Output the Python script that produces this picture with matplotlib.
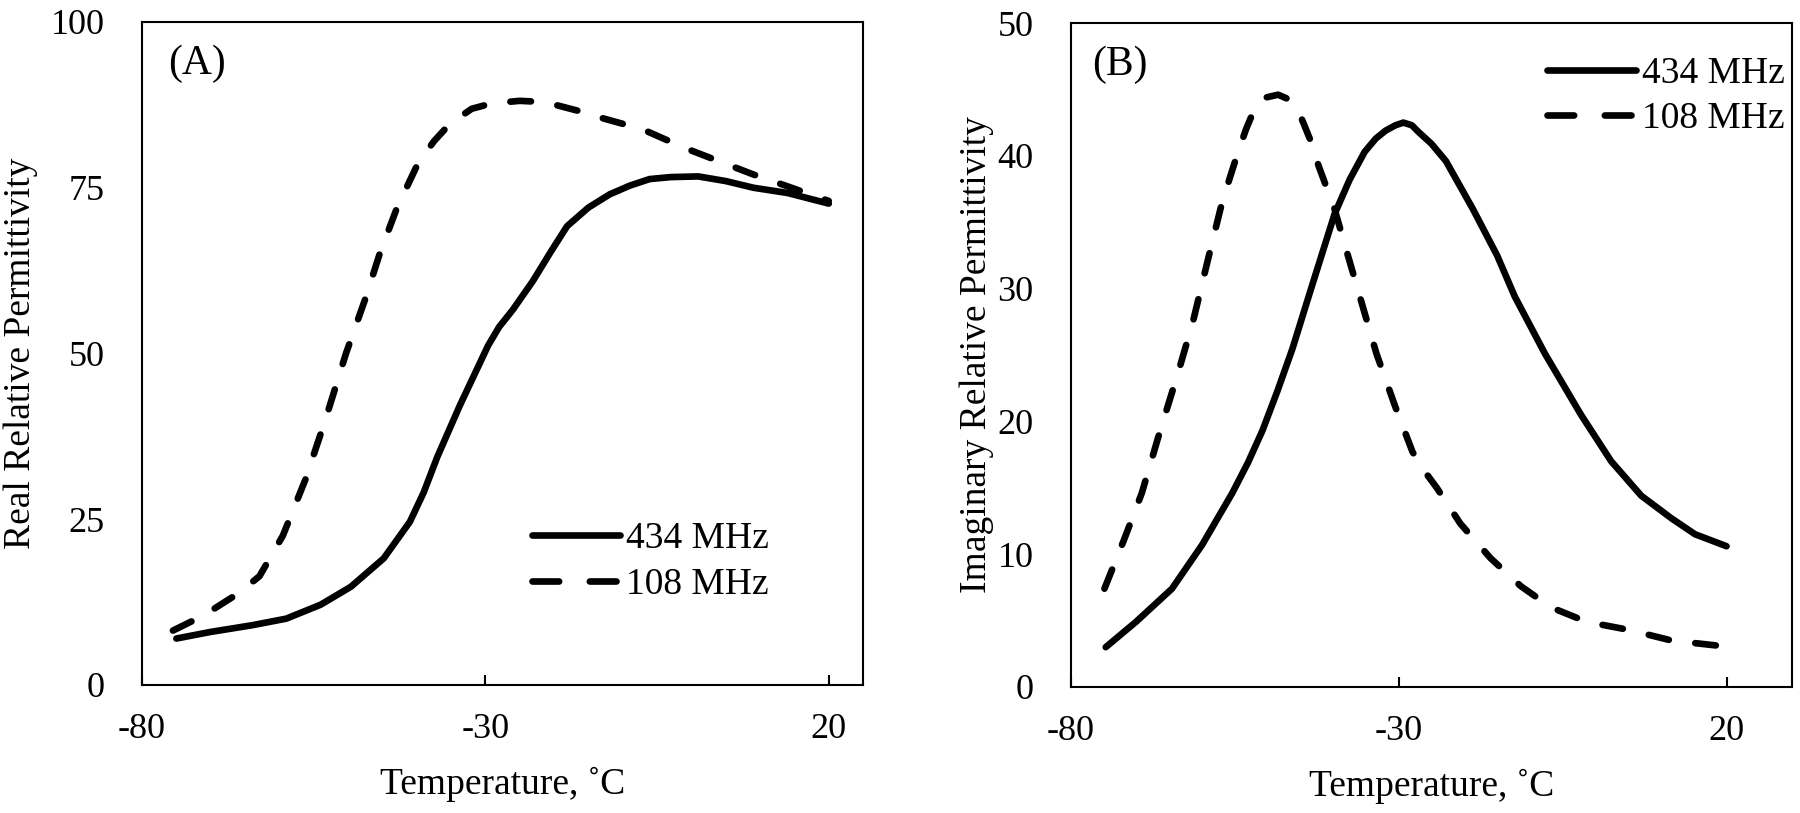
import matplotlib
matplotlib.use("Agg")
import matplotlib.pyplot as plt

plt.rcParams["font.family"] = ["Liberation Serif", "DejaVu Serif"]
plt.rcParams["axes.unicode_minus"] = False

# panel A - real part
a_t_434 = [-75, -70, -64, -59, -54, -49.6, -44.8, -41, -39, -37, -33.7, -29.6, -28, -26,
           -23.1, -20.5, -18.1, -15, -11.9, -9, -6.1, -3, 1, 5, 9, 14, 20]
a_434 = [7.0, 8.0, 9.0, 10.0, 12.1, 14.8, 19.1, 24.6, 29.0, 34.4, 42.2, 51.2, 54.0, 56.6,
         60.9, 65.3, 69.2, 72.0, 74.0, 75.3, 76.3, 76.6, 76.7, 76.0, 75.0, 74.2, 72.6]
a_t_108 = [-75.5, -71, -66, -62.9, -59.5, -56.2, -53.3, -50.3, -47.5, -45.4, -42.9, -39.8,
           -37.5, -35.2, -32, -29.5, -27.2, -25, -23, -20.2, -16.5, -13, -7.1, -1, 4, 9,
           14, 20]
a_108 = [8.2, 10.5, 13.8, 16.4, 22.5, 31, 40, 50, 58.2, 65, 71.9, 78.7,
         82, 84.6, 86.9, 87.6, 87.9, 88.1, 88, 87.6, 86.6, 85.5, 83.8, 81, 79, 77,
         75.2, 73]

# panel B - imaginary part
b_t_434 = [-74.7, -70.1, -64.6, -60, -55.4, -53, -50.8, -48.5, -46.2, -43.5, -39.8, -37.5,
           -35.2, -33.5, -32, -30.5, -29.3, -28, -27, -25, -22.8, -18.7, -15, -12.3, -7.7,
           -2.2, 2.4, 7, 11.6, 15.2, 20]
b_434 = [3.0, 4.9, 7.4, 10.7, 14.6, 16.9, 19.3, 22.3, 25.5, 29.8, 35.6, 38.2,
         40.3, 41.3, 41.9, 42.3, 42.5, 42.3, 41.8, 40.9, 39.6, 36, 32.5, 29.4, 25.1,
         20.5, 17, 14.4, 12.7, 11.5, 10.6]
b_t_108 = [-74.9, -71.9, -69.2, -66.4, -63.7, -61.4, -59.1, -57.2, -55.8, -54.5, -53.3,
           -52.2, -51.2, -50.2, -48.4, -47, -45.9, -44.9, -43.5, -42.2, -39.8, -38, -35.7,
           -33.4, -30.6, -27.9, -26, -24.2, -20.6, -16, -11.4, -6.8, -1.3, 5.1, 11.6,
           18.9, 20]
b_108 = [7.4, 11.1, 14.6, 19.3, 23.6, 27.5, 32.2, 36, 38.3, 40.3, 42.0,
         43.3, 44.1, 44.4, 44.6, 44.3, 43.7, 42.9, 41.2, 39.2, 36, 32.9, 29,
         25.1, 21.2, 17.7, 16.2, 15, 12.3, 9.7, 7.6, 6, 4.9, 4.3, 3.5,
         3.1, 3.0]

labels = ["434 MHz", "108 MHz"]
x_ticks = [-80, -30, 20]

fig = plt.figure(figsize=(18, 8.13), dpi=100)
ax1 = fig.add_axes([0.0789, 0.1575, 0.4006, 0.8155])
ax2 = fig.add_axes([0.595, 0.1550, 0.4006, 0.8167])

LW = 4.8
DASH = (3.1, 4.0)


def style(ax, ymax, yticks, xmax):
    ax.set_xlim(-80, xmax)
    ax.set_ylim(0, ymax)
    ax.set_xticks(x_ticks)
    ax.set_yticks(yticks)
    for s in ax.spines.values():
        s.set_linewidth(1.5)
    ax.tick_params(axis="x", direction="in", length=7.2, width=1.5, labelsize=26, pad=20)
    ax.tick_params(axis="y", length=0, labelsize=26, pad=27)
    ax.set_xlabel("Temperature, ˚C", fontsize=27)


def add_legend(ax, loc, anchor):
    leg = ax.legend(loc=loc, bbox_to_anchor=anchor, frameon=False, fontsize=27,
                    handlelength=2.35, handletextpad=0.17, labelspacing=0.3,
                    borderpad=0, borderaxespad=0)
    leg.get_lines()[1].set_dashes((4.0, 4.6))
    return leg


ax1.plot(a_t_434, a_434, color="black", lw=LW, solid_capstyle="round",
         solid_joinstyle="round", label=labels[0])
ax1.plot(a_t_108, a_108, color="black", lw=LW, dashes=DASH, dash_capstyle="round",
         label=labels[1])
style(ax1, 100, [0, 25, 50, 75, 100], 25)
ax1.set_ylabel("Real Relative Permittivity", fontsize=27)
ax1.yaxis.set_label_coords(-0.144, 0.5)
ax1.xaxis.set_label_coords(0.5, -0.124)
ax1.text(0.076, 0.937, "(A)", transform=ax1.transAxes, fontsize=30, ha="center", va="center")
add_legend(ax1, "lower right", (0.87, 0.125))

ax2.plot(b_t_434, b_434, color="black", lw=LW, solid_capstyle="round",
         solid_joinstyle="round", label=labels[0])
ax2.plot(b_t_108, b_108, color="black", lw=LW, dashes=DASH, dash_capstyle="round",
         label=labels[1])
style(ax2, 50, [0, 10, 20, 30, 40, 50], 30)
ax2.set_ylabel("Imaginary Relative Permittivity", fontsize=27)
ax2.yaxis.set_label_coords(-0.107, 0.5)
ax2.xaxis.set_label_coords(0.5, -0.124)
ax2.text(0.068, 0.937, "(B)", transform=ax2.transAxes, fontsize=30, ha="center", va="center")
add_legend(ax2, "upper right", (0.99, 0.95))

fig.savefig("out.png", dpi=100)
